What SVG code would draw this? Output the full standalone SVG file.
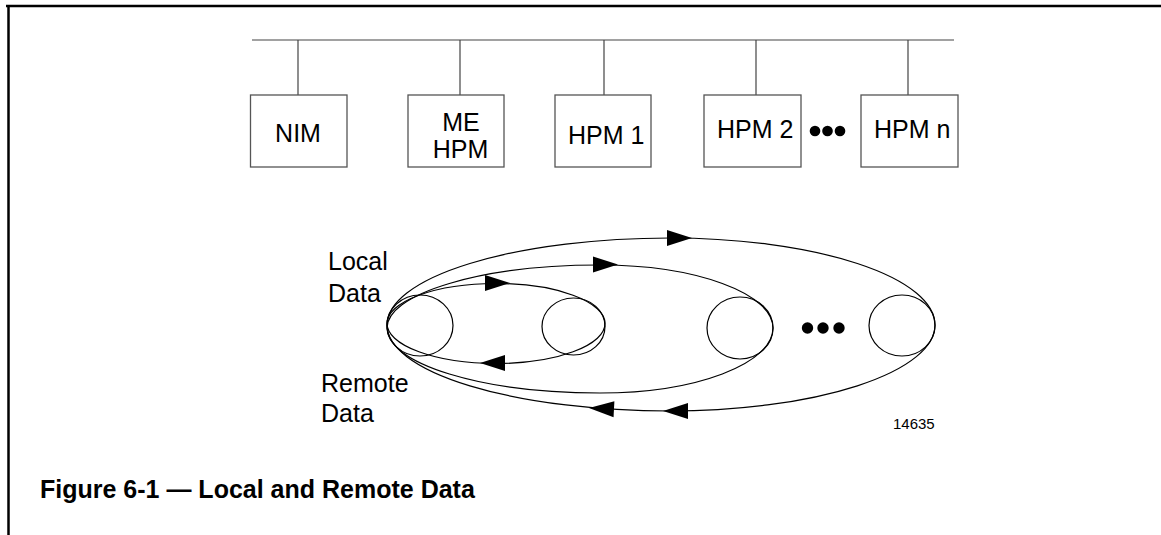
<svg xmlns="http://www.w3.org/2000/svg" xmlns:xlink="http://www.w3.org/1999/xlink" width="1161" height="535" viewBox="0 0 1161 535">
<style>
.frame{stroke:#000;stroke-width:2.5;fill:none}
.bus{stroke:#444;stroke-width:1.2;fill:none}
.box{stroke:#555;stroke-width:1.3;fill:#fff}
.lbl{font-family:"Liberation Sans",Arial,sans-serif;font-size:25px;fill:#000}
.small{font-family:"Liberation Sans",Arial,sans-serif;font-size:15px;fill:#000}
.title{font-family:"Liberation Sans",Arial,sans-serif;font-size:25px;font-weight:bold;fill:#000}
.circ{stroke:#000;stroke-width:1.2;fill:none}
.loop{stroke:#000;stroke-width:1.2;fill:none}
</style>
<defs>
<polygon id="ah" points="0,0 -25,-8 -25,8" fill="#000"/>
</defs>
<rect width="1161" height="535" fill="#fff"/>
<line class="frame" x1="6" y1="6" x2="1161" y2="6"/>
<line class="frame" x1="8.5" y1="6" x2="8.5" y2="535"/>

<g id="connectors">
<line class="bus" x1="252" y1="40" x2="954" y2="40"/>
<line class="bus" x1="298" y1="40" x2="298" y2="95" stroke="#999"/>
<line class="bus" x1="460" y1="40" x2="460" y2="95"/>
<line class="bus" x1="604" y1="40" x2="604" y2="95"/>
<line class="bus" x1="756" y1="40" x2="756" y2="95"/>
<line class="bus" x1="908" y1="40" x2="908" y2="95"/>
</g>

<g id="node-nim"><rect class="box" x="250.5" y="95" width="96.5" height="72"/><text class="lbl" x="298" y="142" text-anchor="middle">NIM</text></g>
<g id="node-mehpm"><rect class="box" x="408" y="95" width="96" height="72"/><text class="lbl" x="461" y="131" text-anchor="middle">ME</text><text class="lbl" x="460.5" y="158" text-anchor="middle">HPM</text></g>
<g id="node-hpm1"><rect class="box" x="555" y="95" width="96" height="72"/><text class="lbl" x="568" y="144">HPM 1</text></g>
<g id="node-hpm2"><rect class="box" x="704" y="95" width="97" height="72"/><text class="lbl" x="717" y="138">HPM 2</text></g>
<g id="dots-top" fill="#000"><circle cx="815" cy="131" r="5.3"/><circle cx="827.5" cy="131" r="5.3"/><circle cx="840" cy="131" r="5.3"/></g>
<g id="node-hpmn"><rect class="box" x="861" y="95" width="97" height="72"/><text class="lbl" x="874" y="138">HPM n</text></g>

<g id="loops">
<ellipse class="loop" cx="496" cy="323.5" rx="109" ry="40"/>
<path class="loop" d="M387,328 A213,63 0 0 1 600,265 A173,63 0 0 1 773,328 A173,65 0 0 1 600,393 A213,65 0 0 1 387,328 Z"/>
<path class="loop" d="M387,325 A283,87 0 0 1 670,238 A265,87 0 0 1 935,325 A265,86 0 0 1 670,411 A283,86 0 0 1 387,325 Z"/>
<use xlink:href="#ah" transform="translate(510,283)"/>
<use xlink:href="#ah" transform="translate(618,264.5)"/>
<use xlink:href="#ah" transform="translate(692,238)"/>
<use xlink:href="#ah" transform="translate(480,363) rotate(180)"/>
<use xlink:href="#ah" transform="translate(589,408) rotate(183)"/>
<use xlink:href="#ah" transform="translate(663,411) rotate(180)"/>
</g>

<g id="node-c1"><ellipse class="circ" cx="420" cy="325.5" rx="33" ry="30.5"/></g>
<g id="node-c2"><ellipse class="circ" cx="573.5" cy="326.5" rx="31.5" ry="28.5"/></g>
<g id="node-c3"><ellipse class="circ" cx="740" cy="328" rx="33" ry="31"/></g>
<g id="dots-bottom" fill="#000"><circle cx="807.5" cy="328" r="5.7"/><circle cx="823" cy="328" r="5.7"/><circle cx="839" cy="328" r="5.7"/></g>
<g id="node-c4"><ellipse class="circ" cx="902" cy="325.5" rx="33" ry="30.5"/></g>

<text class="lbl" x="328" y="270">Local</text>
<text class="lbl" x="328" y="302">Data</text>
<text class="lbl" x="321" y="392">Remote</text>
<text class="lbl" x="321" y="422">Data</text>
<text class="small" x="893" y="429">14635</text>
<text class="title" x="40" y="498">Figure 6-1 — Local and Remote Data</text>
</svg>
